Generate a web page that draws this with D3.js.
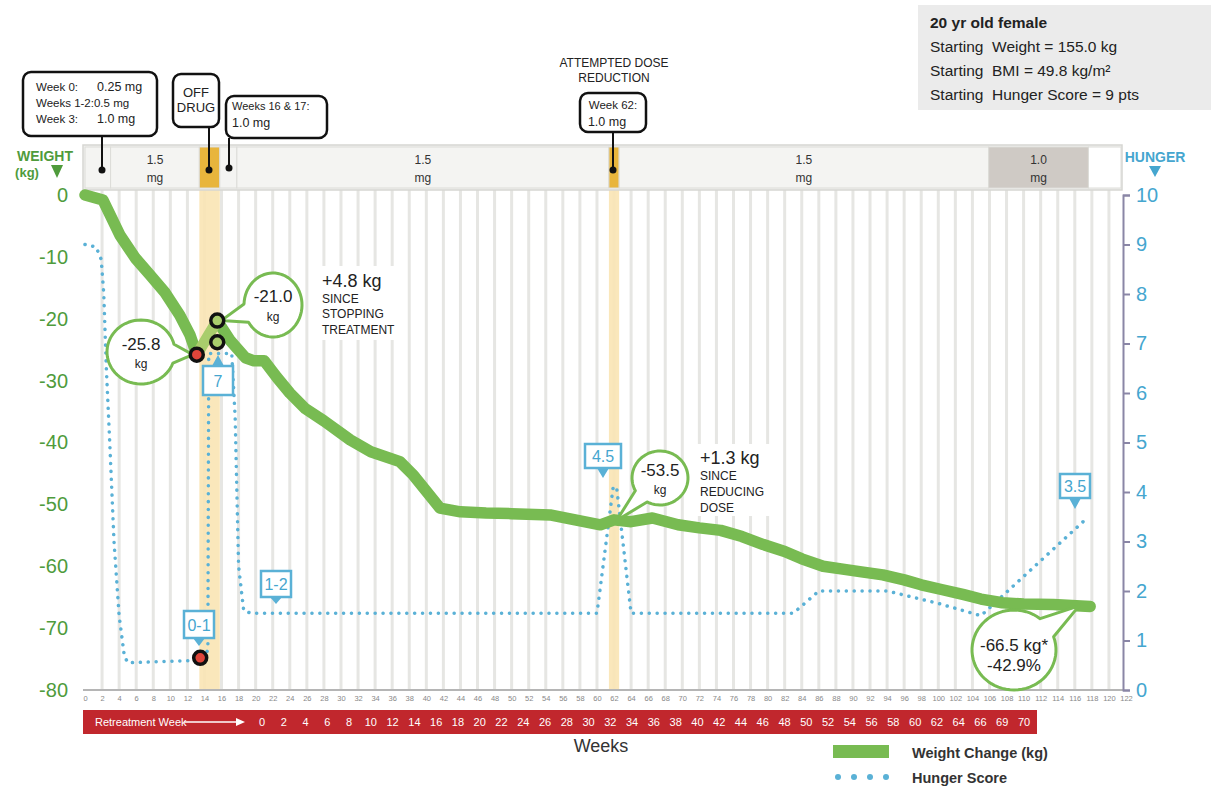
<!DOCTYPE html>
<html><head><meta charset="utf-8">
<script src="https://cdn.jsdelivr.net/npm/d3@7"></script>
<style>
body{margin:0;background:#fff;}
svg text{font-family:"Liberation Sans",Arial,sans-serif;white-space:pre;}
</style></head>
<body><svg id="c" width="1211" height="789"></svg>
<script>
// ---------- DATA ----------
const weightWeeks = [0,2.1,4.1,5.9,7.6,9.4,11.1,12.3,13.1, 15.5,17.0,18.8,19.8,21.0,22.5,24.0,25.8,28.0,31.1,33.5,36.9,38.5,39.9,41.6,44,47,50,54.5,57,60.4,62,64,66.5,69.5,72,74.5,77,79.5,82,84,86.5,89,91,93.5,96,98,100.5,103,105,107.5,110,113.5,117.8];
const weightValues = [0,-0.8,-6.5,-10.2,-12.9,-15.8,-19.4,-22.6,-25.8, -20.3,-23.5,-26.3,-26.8,-26.8,-29.5,-32.0,-34.5,-36.5,-39.6,-41.5,-43.1,-45.3,-47.7,-50.6,-51.2,-51.4,-51.5,-51.7,-52.4,-53.3,-52.5,-52.8,-52.2,-53.3,-53.8,-54.2,-55.2,-56.5,-57.6,-58.8,-60.0,-60.5,-60.9,-61.4,-62.2,-63.0,-63.8,-64.6,-65.3,-65.9,-66.1,-66.2,-66.5];
const offDrugWeeks = [13.1, 15.5];
const offDrugValues = [-25.8, -20.3];
const hungerWeeks = [0,1.3,1.9,2.2,2.5,2.9,3.4,4.0,4.6,5.0,13.5,14.4,14.5,17.2,17.6,18.0,18.6,19.5,60.0,61.9,62.3,64.0,83.0,86.0,94.0,100.0,105.0,117.6];
const hungerValues = [9.0,8.95,8.7,8.0,6.5,5.0,3.0,1.5,0.7,0.55,0.6,0.8,6.8,6.8,5.5,2.5,1.6,1.55,1.55,4.1,4.1,1.55,1.55,2.0,2.0,1.75,1.5,3.5];
const weightTicks = [0,-10,-20,-30,-40,-50,-60,-70,-80];
const hungerTicks = [0,1,2,3,4,5,6,7,8,9,10];
const weekTicks = d3.range(0,123,2);
const retreatLabels = ["0","2","4","6","8","10","12","14","16","18","20","22","24","26","28","30","32","34","36","38","40","42","44","46","48","50","52","54","56","58","60","62","64","66","69","70"];
const doseStarts = [0,3,13.4,15.8,17.8,61.4,62.6,105.9,117.6];
const doseEnds   = [3,13.4,15.8,17.8,61.4,62.6,105.9,117.6,121.7];
const doseKinds  = ["plain","plain","off","plain","plain","off","plain","gray","white"];
const doseLabels = ["","1.5|mg","","","1.5|mg","","1.5|mg","1.0|mg",""];
const infoLines = ["20 yr old female","Starting  Weight = 155.0 kg","Starting  BMI = 49.8 kg/m²","Starting  Hunger Score = 9 pts"];

// ---------- SCALES ----------
const svg = d3.select("#c");
const x = d3.scaleLinear().domain([0,122]).range([85,1126]);
const yW = d3.scaleLinear().domain([-80,0]).range([690,195]);
const yH = d3.scaleLinear().domain([0,10]).range([690,195]);
const GREEN="#78bb52", LGREEN="#a9cd6c", GTXT="#4f9b3c", BLUE="#5ab1d6", BTXT="#45a6cf";

// info box
svg.append("rect").attr("x",918).attr("y",5).attr("width",293).attr("height",105).attr("fill","#ebebeb");
infoLines.forEach((t,i)=>svg.append("text").attr("x",930).attr("y",28+i*24).attr("font-size",15.5)
  .attr("font-weight",i===0?"bold":"normal").attr("fill","#222").text(t));

// plot gridlines
svg.append("g").selectAll("rect").data(weekTicks.filter(d=>d>0&&d<122)).join("rect")
  .attr("x",d=>x(d)-1.5).attr("y",190).attr("width",3).attr("height",500).attr("fill","#e6e6e3");
// yellow bands in plot
svg.append("rect").attr("x",x(13.4)).attr("y",190).attr("width",x(15.8)-x(13.4)).attr("height",500).attr("fill","#f9e4b4").attr("opacity",0.9);
svg.append("rect").attr("x",x(61.4)).attr("y",190).attr("width",x(62.6)-x(61.4)).attr("height",500).attr("fill","#f9e4b4").attr("opacity",0.9);

// dose bar
svg.append("rect").attr("x",83).attr("y",145).attr("width",1039).attr("height",45).attr("fill","#f3f3f1").attr("stroke","#d6d6d2").attr("stroke-width",1.5);
const fills={plain:"#f4f4f2",off:"#e8b53c",gray:"#cfcac5",white:"#ffffff"};
doseStarts.forEach((s,i)=>{
  const x0=x(s), x1=Math.min(x(doseEnds[i]),1121);
  svg.append("rect").attr("x",x0).attr("y",147).attr("width",x1-x0).attr("height",41).attr("fill",fills[doseKinds[i]]).attr("stroke","#dcdcd8").attr("stroke-width",1);
  if(doseLabels[i]){const p=doseLabels[i].split("|");
    svg.append("text").attr("x",(x0+x1)/2).attr("y",164).attr("text-anchor","middle").attr("font-size",12).attr("fill","#333").text(p[0]);
    svg.append("text").attr("x",(x0+x1)/2).attr("y",182).attr("text-anchor","middle").attr("font-size",12).attr("fill","#333").text(p[1]);}
});

// bottom line
svg.append("line").attr("x1",83).attr("x2",1123).attr("y1",690).attr("y2",690).attr("stroke","#b5b5b5").attr("stroke-width",2);

// axes
const axL = svg.append("g").attr("transform","translate(76,0)").call(d3.axisLeft(yW).tickValues(weightTicks).tickSize(0).tickPadding(8).tickFormat(d=>String(d)));
axL.select(".domain").remove();
axL.selectAll("text").attr("font-size",20).attr("fill",GTXT).attr("font-family","Liberation Sans, Arial");
const axR = svg.append("g").attr("transform","translate(1123,0)").call(d3.axisRight(yH).tickValues(hungerTicks).tickSize(7).tickPadding(6));
axR.select(".domain").attr("stroke","#8a86a6").attr("stroke-width",2);
axR.selectAll("line").attr("stroke","#8a86a6").attr("stroke-width",2);
axR.selectAll("text").attr("font-size",20).attr("fill",BTXT).attr("font-family","Liberation Sans, Arial");
const axB = svg.append("g").attr("transform","translate(0,690)").call(d3.axisBottom(x).tickValues(weekTicks).tickSize(0).tickPadding(6));
axB.select(".domain").remove();
axB.selectAll("text").attr("font-size",7.5).attr("fill","#888").attr("font-family","Liberation Sans, Arial");

// axis titles
svg.append("text").attr("x",45).attr("y",161).attr("text-anchor","middle").attr("font-size",14).attr("font-weight","bold").attr("fill",GTXT).text("WEIGHT");
svg.append("text").attr("x",27).attr("y",177).attr("text-anchor","middle").attr("font-size",13).attr("font-weight","bold").attr("fill",GTXT).text("(kg)");
svg.append("path").attr("d","M51,165 L63,165 L57,178 Z").attr("fill",GTXT);
svg.append("text").attr("x",1155).attr("y",162).attr("text-anchor","middle").attr("font-size",14).attr("font-weight","bold").attr("fill",BTXT).text("HUNGER");
svg.append("path").attr("d","M1149,166 L1161,166 L1155,177 Z").attr("fill",BTXT);

// hunger dotted line
const hData = hungerWeeks.map((w,i)=>[w,hungerValues[i]]);
svg.append("path").attr("d",d3.line().x(d=>x(d[0])).y(d=>yH(d[1]))(hData))
  .attr("fill","none").attr("stroke",BLUE).attr("stroke-width",3.5).attr("stroke-linecap","round").attr("stroke-dasharray","0.1 7.8");

// weight line
const wData = weightWeeks.map((w,i)=>[w,weightValues[i]]);
const wLine = d3.line().x(d=>x(d[0])).y(d=>yW(d[1]));
svg.append("path").attr("d",wLine(wData.slice(0,9))).attr("fill","none").attr("stroke",GREEN).attr("stroke-width",11.5).attr("stroke-linejoin","round").attr("stroke-linecap","round");
svg.append("path").attr("d",wLine(wData.slice(9))).attr("fill","none").attr("stroke",GREEN).attr("stroke-width",11.5).attr("stroke-linejoin","round").attr("stroke-linecap","round");
svg.append("path").attr("d",wLine(offDrugWeeks.map((w,i)=>[w,offDrugValues[i]]))).attr("fill","none").attr("stroke",LGREEN).attr("stroke-width",11).attr("stroke-linecap","round");

// bubbles
function bubble(cx,cy,rx,ry,tx,ty,spread){
  const a0=Math.atan2((ty-cy)/ry,(tx-cx)/rx);const pts=[];
  for(let i=0;i<=60;i++){const a=a0+spread+(2*Math.PI-2*spread)*i/60;pts.push([cx+rx*Math.cos(a),cy+ry*Math.sin(a)]);}
  pts.push([tx,ty]);
  svg.append("path").attr("d",d3.line()(pts)+"Z").attr("fill","#fff").attr("stroke",GREEN).attr("stroke-width",3).attr("stroke-linejoin","round");
}
function txt(xx,yy,t,size,opts={}){return svg.append("text").attr("x",xx).attr("y",yy).attr("font-size",size).attr("fill",opts.fill||"#222")
  .attr("text-anchor",opts.anchor||"start").attr("font-weight",opts.bold?"bold":"normal").text(t);}

bubble(141,352,34,32,x(13.1)-4,yW(-25.8),0.3);
txt(141,350,"-25.8",17,{anchor:"middle"}); txt(141,368,"kg",12,{anchor:"middle"});
bubble(273,305,29,32,x(15.5)+4,yW(-20.3),0.3);
txt(273,302,"-21.0",17,{anchor:"middle"}); txt(273,321,"kg",12,{anchor:"middle"});
bubble(660,478,28,27,x(62.3),yW(-52.6),0.3);
txt(660,476,"-53.5",17,{anchor:"middle"}); txt(660,494,"kg",12,{anchor:"middle"});
bubble(1014,650,42,40,x(116.5),yW(-66.4),0.28);
txt(1014,651,"-66.5 kg*",17,{anchor:"middle"}); txt(1014,671,"-42.9%",17,{anchor:"middle"});

// gain annotations
svg.append("rect").attr("x",316).attr("y",266).attr("width",88).attr("height",74).attr("fill","#fff");
txt(322,287,"+4.8 kg",18); txt(322,303,"SINCE",12); txt(322,318,"STOPPING",12); txt(322,334,"TREATMENT",12);
svg.append("rect").attr("x",696).attr("y",444).attr("width",86).attr("height",72).attr("fill","#fff");
txt(700,464,"+1.3 kg",18); txt(700,480,"SINCE",12); txt(700,496,"REDUCING",12); txt(700,512,"DOSE",12);

// markers
function ring(xx,yy,fill){svg.append("circle").attr("cx",xx).attr("cy",yy).attr("r",6.5).attr("fill",fill).attr("stroke","#111").attr("stroke-width",3.5);}
ring(x(13.1),yW(-25.8),"#e0453a");
ring(x(15.5),yW(-20.3),LGREEN);
ring(x(15.5),yW(-23.8),LGREEN);
ring(x(13.5),yH(0.65),"#e0453a");

// hunger label boxes
function hbox(cx,top,w,h,t,tipY,up){
  const p = up ? `M${cx-6},${top} L${cx},${tipY} L${cx+6},${top}` : `M${cx-6},${top+h} L${cx},${tipY} L${cx+6},${top+h}`;
  svg.append("path").attr("d",p+"Z").attr("fill",BLUE);
  svg.append("rect").attr("x",cx-w/2).attr("y",top).attr("width",w).attr("height",h).attr("fill","#fff").attr("stroke",BLUE).attr("stroke-width",2.5);
  txt(cx,top+h/2+6,t,16,{anchor:"middle",fill:BTXT});
}
hbox(199,611,30,27,"0-1",646,false);
hbox(276,571,30,26,"1-2",604,false);
hbox(218,366,30,29,"7",355,true);
hbox(603,444,36,24,"4.5",478,false);
hbox(1075,474,30,24,"3.5",509,false);

// callout boxes (black)
function cbox(x0,y0,w,h){svg.append("rect").attr("x",x0).attr("y",y0).attr("width",w).attr("height",h).attr("rx",8).attr("fill","#fff").attr("stroke","#111").attr("stroke-width",2.5);}
function pin(xx,y0,y1){svg.append("line").attr("x1",xx).attr("x2",xx).attr("y1",y0).attr("y2",y1).attr("stroke","#111").attr("stroke-width",2);
  svg.append("circle").attr("cx",xx).attr("cy",y1).attr("r",3.5).attr("fill","#111");}
cbox(23,72,134,64); pin(102,136,170);
txt(36,91,"Week 0:",11.5); txt(97,91,"0.25 mg",12.5);
txt(36,107,"Weeks 1-2:0.5 mg",11.5);
txt(36,123,"Week 3:",11.5); txt(97,123,"1.0 mg",12.5);
cbox(173,74,46,53); pin(209,127,170);
txt(196,97,"OFF",13,{anchor:"middle"}); txt(196,112,"DRUG",13,{anchor:"middle"});
cbox(226,96,101,42); pin(229,138,168);
txt(232,110,"Weeks 16 & 17:",11); txt(232,127,"1.0 mg",12.5);
cbox(580,93,66,39); pin(613,132,170);
txt(613,109,"Week 62:",11.5,{anchor:"middle"}); txt(607,126,"1.0 mg",12.5,{anchor:"middle"});
txt(614,67,"ATTEMPTED DOSE",12,{anchor:"middle"}); txt(614,82,"REDUCTION",12,{anchor:"middle"});

// retreatment bar
svg.append("rect").attr("x",83).attr("y",710).attr("width",954).attr("height",24).attr("fill","#c1272d");
txt(95,726,"Retreatment Week",11,{fill:"#fff"});
svg.append("line").attr("x1",184).attr("x2",238).attr("y1",722).attr("y2",722).attr("stroke","#fff").attr("stroke-width",1.5);
svg.append("path").attr("d","M236,718 L245,722 L236,726 Z").attr("fill","#fff");
const rx = d3.scalePoint().domain(retreatLabels.map((d,i)=>i)).range([262,1024]);
svg.append("g").selectAll("text").data(retreatLabels).join("text").attr("x",(d,i)=>rx(i)).attr("y",726)
  .attr("text-anchor","middle").attr("font-size",11).attr("fill","#fff").text(d=>d);

// x title
txt(601,752,"Weeks",18,{anchor:"middle",fill:"#333"});

// legend
svg.append("rect").attr("x",833).attr("y",745).attr("width",56).attr("height",13).attr("fill",GREEN);
[838,854,870,886].forEach(cx=>svg.append("circle").attr("cx",cx).attr("cy",777).attr("r",3).attr("fill",BLUE));
txt(912,758,"Weight Change (kg)",14.5,{bold:true,fill:"#333"});
txt(912,783,"Hunger Score",14.5,{bold:true,fill:"#333"});
</script></body></html>
